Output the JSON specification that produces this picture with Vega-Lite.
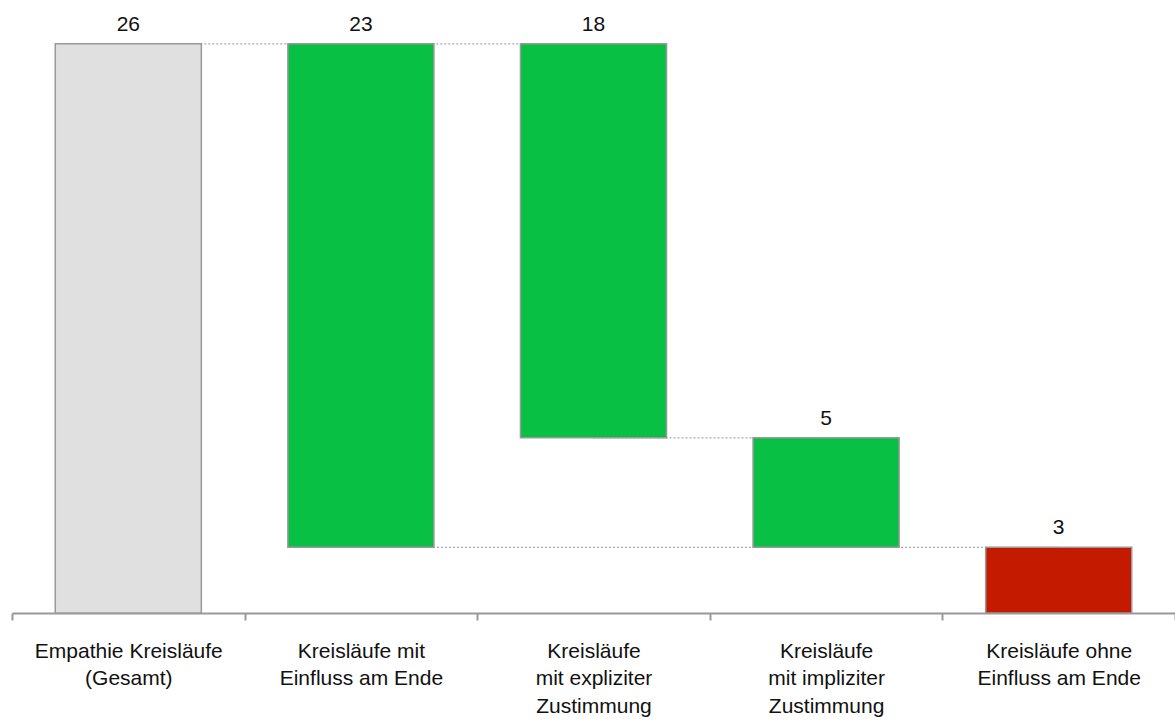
{
  "$schema": "https://vega.github.io/schema/vega-lite/v6.json",
  "width": 1163,
  "height": 613,
  "autosize": {"type": "none"},
  "padding": {"left": 12, "top": 0, "right": 0, "bottom": 109},
  "background": "white",
  "config": {"view": {"stroke": null}},
  "layer": [
    {
      "data": {"values": [
        {"from": "Empathie Kreisläufe|(Gesamt)", "to": "Kreisläufe|mit expliziter|Zustimmung", "level": 26},
        {"from": "Kreisläufe|mit expliziter|Zustimmung", "to": "Kreisläufe|mit impliziter|Zustimmung", "level": 8},
        {"from": "Kreisläufe mit|Einfluss am Ende", "to": "Kreisläufe ohne|Einfluss am Ende", "level": 3}
      ]},
      "mark": {"type": "rule", "color": "#a6a6a6", "strokeWidth": 1.2, "strokeDash": [2, 2]},
      "encoding": {
        "x": {"field": "from", "type": "nominal"},
        "x2": {"field": "to"},
        "y": {"field": "level", "type": "quantitative"}
      }
    },
    {
      "data": {"values": [
        {"category": "Empathie Kreisläufe|(Gesamt)", "start": 0, "end": 26, "value": 26, "kind": "total"},
        {"category": "Kreisläufe mit|Einfluss am Ende", "start": 3, "end": 26, "value": 23, "kind": "pos"},
        {"category": "Kreisläufe|mit expliziter|Zustimmung", "start": 8, "end": 26, "value": 18, "kind": "pos"},
        {"category": "Kreisläufe|mit impliziter|Zustimmung", "start": 3, "end": 8, "value": 5, "kind": "pos"},
        {"category": "Kreisläufe ohne|Einfluss am Ende", "start": 0, "end": 3, "value": 3, "kind": "neg"}
      ]},
      "layer": [
        {
          "mark": {"type": "bar", "stroke": "#999999", "strokeWidth": 1.5, "width": {"band": 0.628}},
          "encoding": {
            "x": {
              "field": "category",
              "type": "nominal",
              "scale": {
                "domain": ["Empathie Kreisläufe|(Gesamt)", "Kreisläufe mit|Einfluss am Ende", "Kreisläufe|mit expliziter|Zustimmung", "Kreisläufe|mit impliziter|Zustimmung", "Kreisläufe ohne|Einfluss am Ende"],
                "paddingInner": 0,
                "paddingOuter": 0
              },
              "axis": {
                "title": null,
                "labelAngle": 0,
                "labelAlign": "center",
                "labelExpr": "split(datum.label, '|')",
                "labelFont": "Liberation Sans",
                "labelFontSize": 21,
                "labelColor": "#111111",
                "labelLineHeight": 27.5,
                "labelBaseline": "top",
                "labelPadding": 20,
                "labelLimit": 400,
                "domainColor": "#999999",
                "domainWidth": 2,
                "tickColor": "#999999",
                "tickWidth": 2,
                "tickSize": 7,
                "tickBand": "extent"
              }
            },
            "y": {
              "field": "start",
              "type": "quantitative",
              "scale": {"domain": [0, 28], "nice": false},
              "axis": null
            },
            "y2": {"field": "end"},
            "color": {
              "field": "kind",
              "type": "nominal",
              "scale": {"domain": ["total", "pos", "neg"], "range": ["#e0e0e0", "#08c144", "#c41a00"]},
              "legend": null
            }
          }
        },
        {
          "mark": {"type": "text", "font": "Liberation Sans", "fontSize": 21, "color": "#111111", "baseline": "alphabetic", "dy": -13},
          "encoding": {
            "x": {"field": "category", "type": "nominal"},
            "y": {"field": "end", "type": "quantitative"},
            "text": {"field": "value", "type": "quantitative"}
          }
        }
      ]
    }
  ]
}
